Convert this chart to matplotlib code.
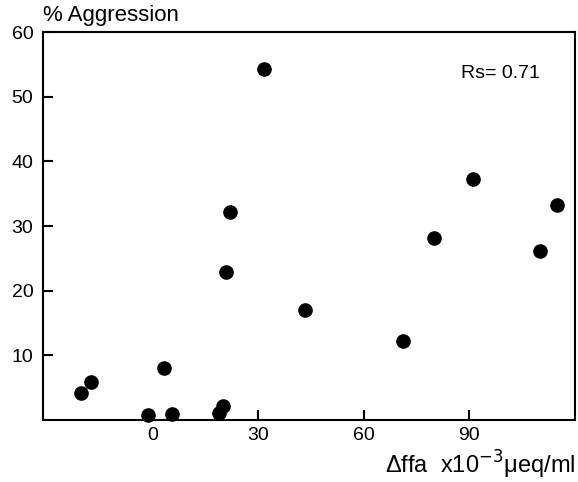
import matplotlib
matplotlib.use("Agg")
import matplotlib.pyplot as plt

plt.rcParams['font.family'] = ['Liberation Sans', 'DejaVu Sans']

# delta ffa (x10^-3 ueq/ml) vs % aggression
dffa = [-20.2, -17.4, -1.2, 3.3, 5.6, 19.0, 20.2, 20.9, 22.2, 31.8,
        43.4, 71.3, 79.9, 91.1, 110.2, 115.0]
aggression = [4.2, 5.9, 0.8, 8.0, 1.0, 1.05, 2.1, 22.9, 32.1, 54.3,
              17.0, 12.2, 28.2, 37.2, 26.1, 33.3]
xticks = [0, 30, 60, 90]
yticks = [10, 20, 30, 40, 50, 60]
rs_text = "Rs= 0.71"

fig = plt.figure(figsize=(5.78, 4.82), dpi=100)
ax = fig.add_axes([0.0744, 0.1286, 0.9204, 0.805])

ax.plot(dffa, aggression, 'o', color='black', markersize=9.5, clip_on=False)

ax.set_xlim(-31, 120)
ax.set_ylim(0, 60)
ax.set_xticks(xticks)
ax.set_yticks(yticks)
ax.tick_params(direction='in', length=7, width=1.5, labelsize=14, pad=7)
ax.tick_params(axis='x', pad=5)
ax.xaxis.get_major_ticks()[0].tick1line.set_visible(False)
for s in ax.spines.values():
    s.set_linewidth(1.5)

ax.text(0.934, 0.894, rs_text, transform=ax.transAxes, ha='right', va='center', fontsize=14)

fig.text(43 / 578, 1 - 16 / 482, "% Aggression", ha='left', va='center', fontsize=16)
fig.text(0.995, 0.035, r"Δffa  x10$^{-3}$μeq/ml", ha='right', va='center', fontsize=17)

fig.savefig("out.png", dpi=100)
